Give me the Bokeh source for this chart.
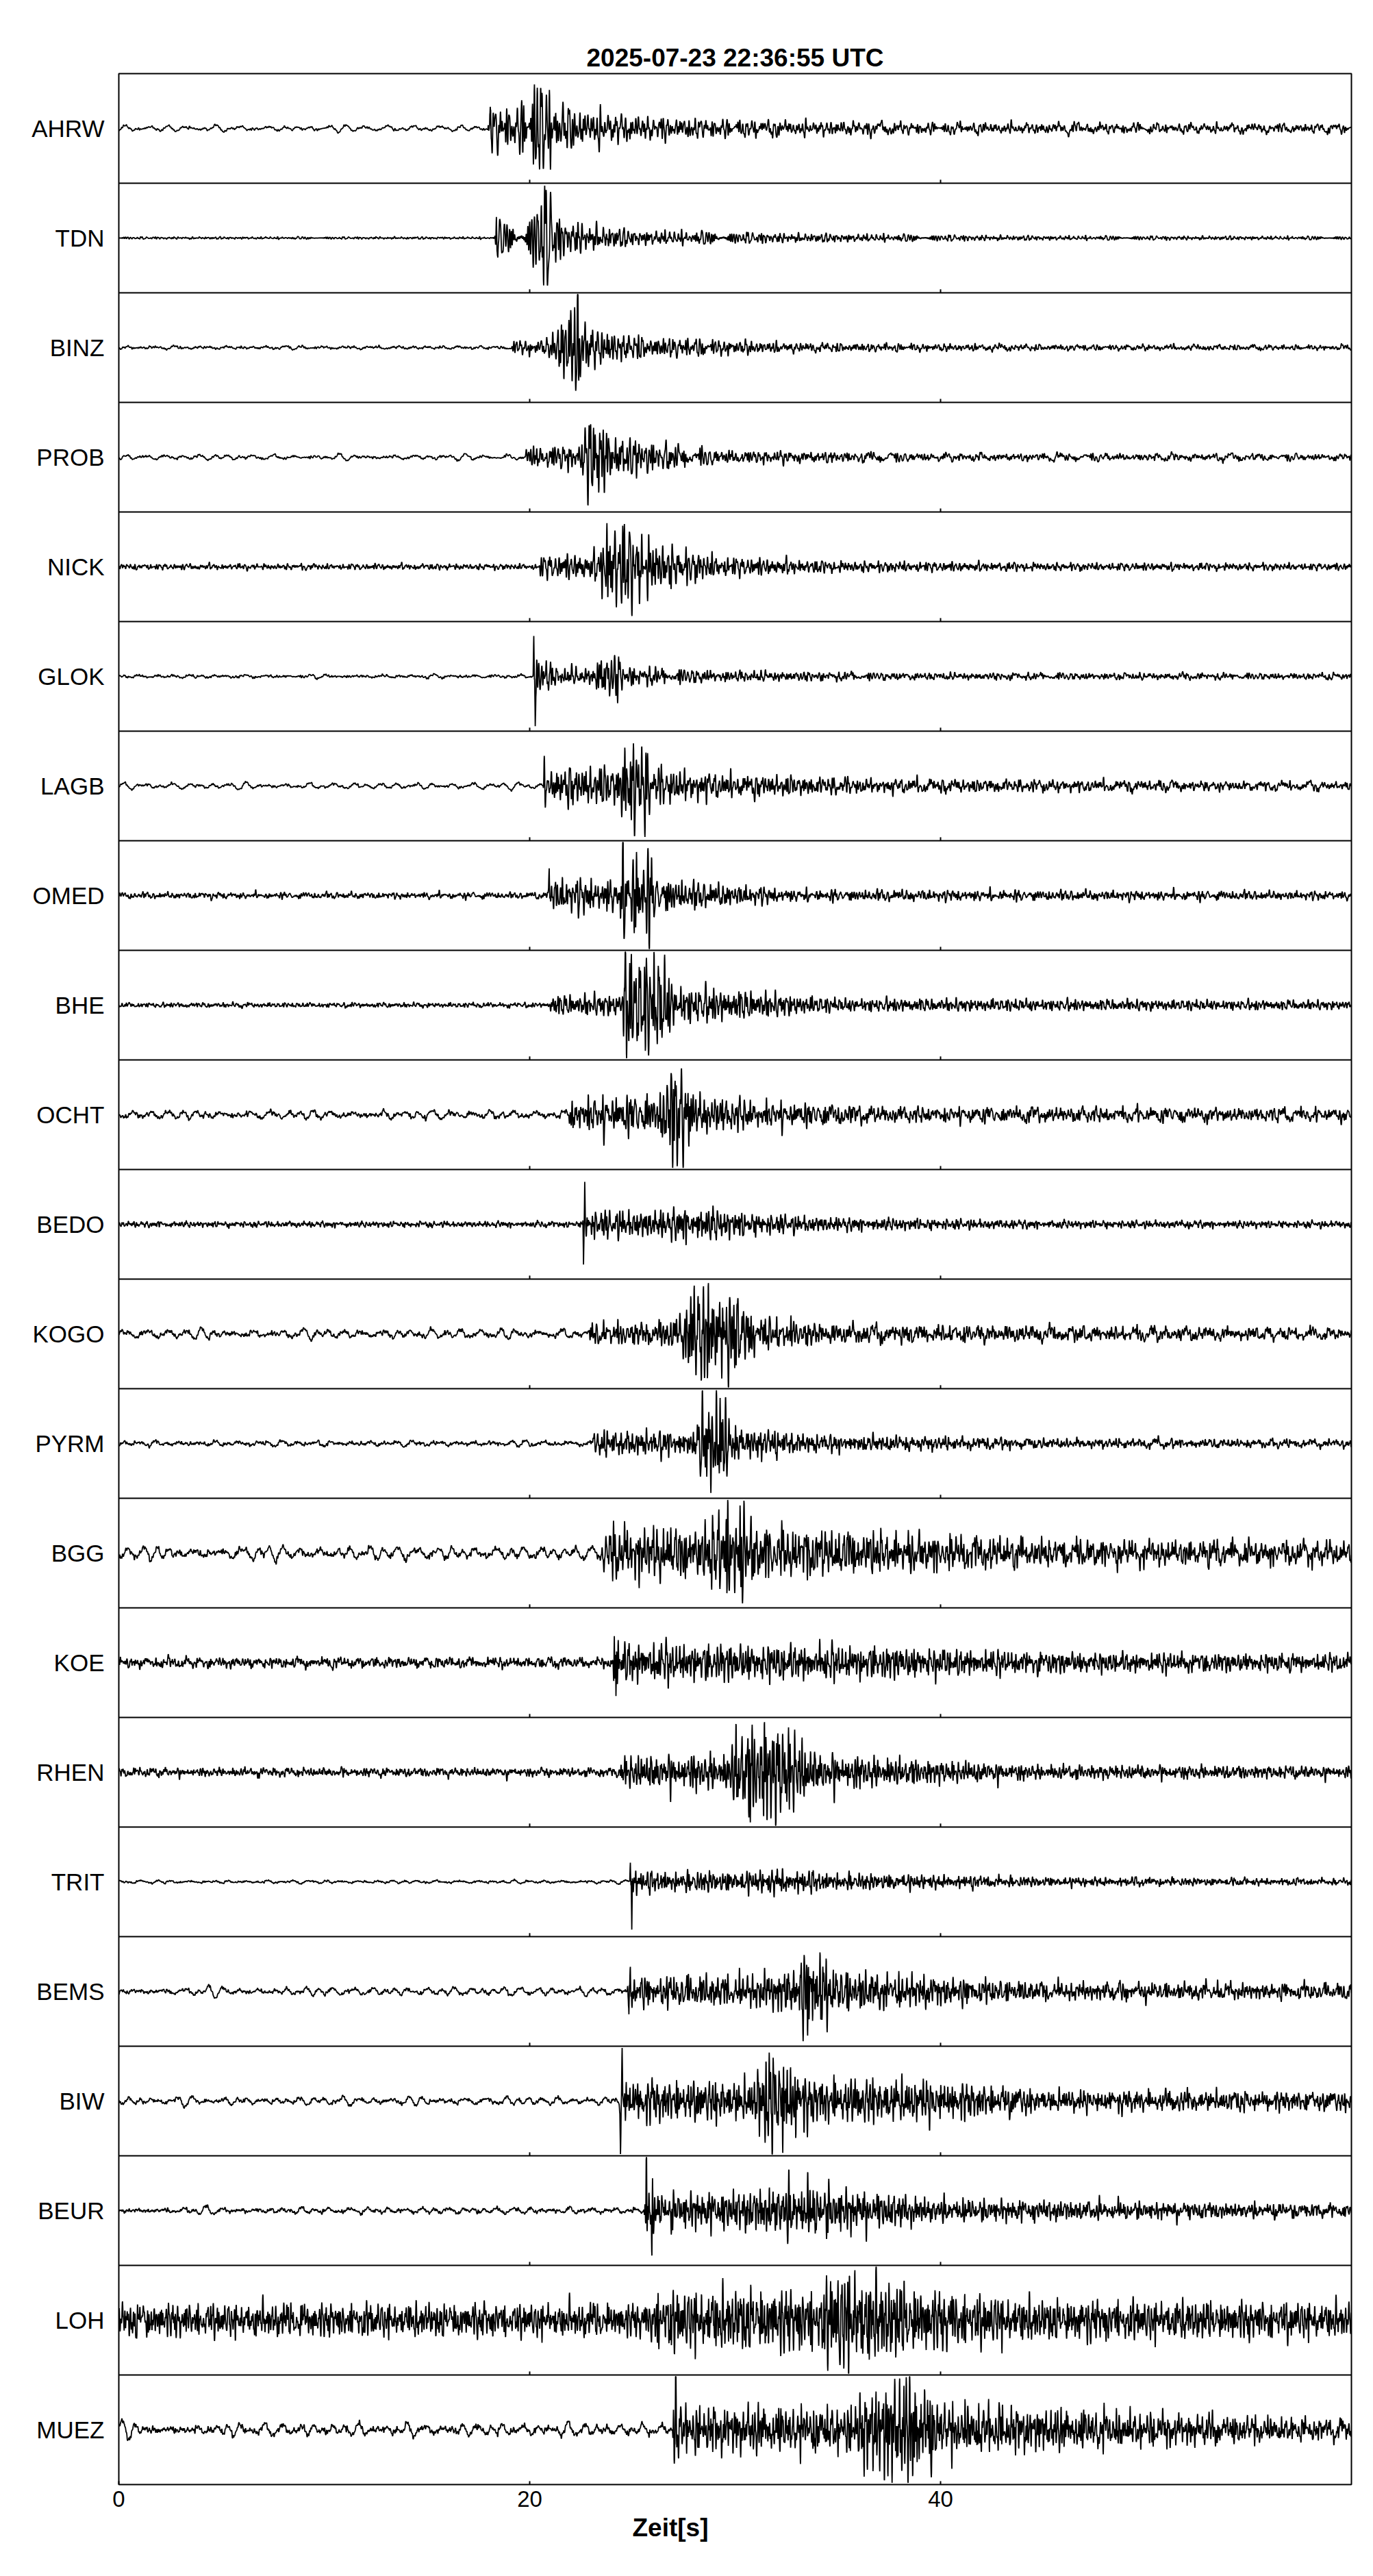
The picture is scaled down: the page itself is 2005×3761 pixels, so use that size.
import numpy as np
from bokeh.plotting import figure
from bokeh.models import Range1d, FixedTicker, Title
from bokeh.embed import file_html
from bokeh.resources import INLINE

# ---------------- data ----------------
STATIONS = ["AHRW", "TDN", "BINZ", "PROB", "NICK", "GLOK", "LAGB", "OMED",
            "BHE", "OCHT", "BEDO", "KOGO", "PYRM", "BGG", "KOE", "RHEN",
            "TRIT", "BEMS", "BIW", "BEUR", "LOH", "MUEZ"]
X_TICKS = [0, 20, 40]
TITLE = "2025-07-23  22:36:55 UTC"
X_LABEL = "Zeit[s]"
DURATION = 60.0       # seconds shown
SAMPLE_RATE = 100     # samples per second

# envelope of each trace (time [s], peak amplitude as fraction of half panel)
ENV_TIMES = [
    [0, 17.95, 18.0, 19.5, 19.9, 20.4, 21.0, 21.6, 23.5, 25.0, 30.0, 38, 49, 60],   # AHRW
    [0, 18.3, 18.35, 19.8, 20.2, 20.5, 21.0, 21.5, 23.0, 25.0, 33.5, 45, 60],       # TDN
    [0, 19.0, 19.1, 21.0, 21.5, 22.0, 22.6, 23.0, 25.5, 33, 45, 60],                # BINZ
    [0, 19.75, 19.8, 22.4, 22.8, 23.2, 23.5, 24.0, 25.5, 29, 40, 60],               # PROB
    [0, 20.45, 20.5, 23.4, 23.6, 24.2, 25.5, 27.0, 29.5, 35, 45, 60],               # NICK
    [0, 20.15, 20.2, 20.8, 21.4, 23.1, 23.3, 24.3, 24.6, 29, 38, 60],               # GLOK
    [0, 20.65, 20.7, 24.3, 24.6, 25.0, 25.6, 26.0, 29, 37, 60],                     # LAGB
    [0, 20.85, 20.9, 24.2, 24.6, 25.0, 25.8, 26.2, 27.8, 33, 60],                   # OMED
    [0, 20.95, 21.0, 24.5, 24.6, 25.5, 26.5, 27.1, 30.8, 35, 60],                   # BHE
    [0, 21.9, 21.95, 26.3, 26.6, 27.0, 27.6, 28.1, 30.8, 37, 60],                   # OCHT
    [0, 22.55, 22.6, 22.9, 26.5, 27.5, 28.5, 30.8, 35, 45, 60],                     # BEDO
    [0, 22.85, 22.9, 26.0, 27.4, 27.8, 28.6, 30.0, 31.2, 35, 60],                   # KOGO
    [0, 23.05, 23.1, 28.0, 28.4, 29.0, 29.5, 30.0, 34, 45, 60],                     # PYRM
    [0, 23.5, 23.55, 24.2, 28.7, 29.2, 30.0, 31.2, 37.2, 45, 60],                   # BGG
    [0, 24.05, 24.1, 24.6, 30, 37.2, 45, 60],                                       # KOE
    [0, 24.35, 24.4, 29.6, 30.1, 31.5, 32.5, 33.8, 37.2, 45, 60],                   # RHEN
    [0, 24.85, 24.9, 25.3, 30.8, 32, 35, 45, 60],                                   # TRIT
    [0, 24.75, 24.8, 25.2, 30.8, 32.9, 33.4, 34.0, 34.6, 37.2, 45, 60],             # BEMS
    [0, 24.35, 24.4, 24.8, 30.8, 31.3, 32.2, 33.6, 39.7, 45, 60],                   # BIW
    [0, 25.55, 25.6, 26.2, 30.8, 33.0, 36.1, 40, 49, 60],                           # BEUR
    [0, 25.85, 25.9, 34.0, 34.7, 35.6, 36.3, 39.7, 45, 60],                         # LOH
    [0, 26.95, 27.0, 27.5, 35.5, 36.0, 37.5, 39.0, 40.0, 49, 60],                   # MUEZ
]
ENV_AMPS = [
    [0.02, 0.02, 0.45, 0.35, 0.85, 0.95, 0.7, 0.4, 0.3, 0.22, 0.15, 0.1, 0.08, 0.07],
    [0.02, 0.02, 0.3, 0.22, 0.6, 0.92, 0.85, 0.35, 0.25, 0.14, 0.08, 0.04, 0.03],
    [0.02, 0.02, 0.12, 0.15, 0.6, 0.92, 0.85, 0.35, 0.2, 0.08, 0.05, 0.04],
    [0.02, 0.02, 0.2, 0.22, 0.6, 0.92, 0.8, 0.4, 0.3, 0.12, 0.06, 0.05],
    [0.05, 0.05, 0.2, 0.25, 0.9, 0.85, 0.6, 0.35, 0.18, 0.1, 0.07, 0.06],
    [0.02, 0.02, 0.4, 0.3, 0.15, 0.15, 0.4, 0.4, 0.18, 0.1, 0.06, 0.05],
    [0.02, 0.02, 0.35, 0.35, 0.8, 0.92, 0.75, 0.35, 0.22, 0.12, 0.06],
    [0.05, 0.05, 0.3, 0.3, 0.8, 0.92, 0.75, 0.35, 0.25, 0.1, 0.07],
    [0.04, 0.04, 0.18, 0.2, 0.9, 0.9, 0.85, 0.35, 0.25, 0.12, 0.08],
    [0.04, 0.04, 0.3, 0.35, 0.75, 0.92, 0.8, 0.35, 0.25, 0.13, 0.1],
    [0.05, 0.05, 0.3, 0.25, 0.25, 0.3, 0.3, 0.2, 0.12, 0.07, 0.06],
    [0.04, 0.04, 0.18, 0.2, 0.3, 0.85, 0.92, 0.7, 0.3, 0.15, 0.08],
    [0.03, 0.03, 0.22, 0.22, 0.7, 0.92, 0.8, 0.3, 0.15, 0.08, 0.06],
    [0.05, 0.05, 0.6, 0.45, 0.45, 0.85, 0.95, 0.45, 0.35, 0.22, 0.18],
    [0.08, 0.08, 0.5, 0.35, 0.32, 0.28, 0.18, 0.14],
    [0.07, 0.07, 0.28, 0.32, 0.75, 0.95, 0.85, 0.35, 0.25, 0.12, 0.1],
    [0.015, 0.015, 0.3, 0.18, 0.18, 0.22, 0.15, 0.08, 0.05],
    [0.03, 0.03, 0.35, 0.25, 0.28, 0.4, 0.7, 0.9, 0.4, 0.3, 0.15, 0.12],
    [0.03, 0.03, 0.45, 0.35, 0.35, 0.75, 0.92, 0.4, 0.35, 0.18, 0.15],
    [0.03, 0.03, 0.7, 0.3, 0.35, 0.5, 0.35, 0.2, 0.15, 0.1],
    [0.28, 0.28, 0.5, 0.55, 0.8, 0.94, 0.8, 0.5, 0.35, 0.3],
    [0.05, 0.05, 0.7, 0.4, 0.38, 0.6, 0.92, 0.9, 0.45, 0.3, 0.15],
]
# background (long-period) noise level of each station
NOISE_LF = [0.06, 0.005, 0.03, 0.05, 0.02, 0.03, 0.06, 0.03, 0.02, 0.08, 0.02,
            0.09, 0.05, 0.13, 0.06, 0.04, 0.03, 0.08, 0.08, 0.06, 0.1, 0.12]
# impulsive first motions (time [s], signed amplitude)
SPIKE_TIMES = [[18.05, 18.1], [18.38, 18.45], [], [], [], [20.2, 20.27], [], [20.95],
               [24.65, 24.72], [], [22.62, 22.68], [], [], [], [24.12, 24.2], [],
               [24.9, 24.97], [24.83, 24.9], [24.42, 24.5], [25.68, 25.95], [],
               [27.05, 27.1]]
SPIKE_AMPS = [[-0.4, 0.5], [0.33, -0.28], [], [], [], [0.48, -0.93], [], [0.5],
              [0.9, -0.85], [], [-0.92, 0.84], [], [], [], [0.66, -0.92], [],
              [0.43, -0.92], [-0.7, 0.46], [-0.8, 0.89], [0.9, -0.82], [],
              [-0.5, 0.9]]

HF_FREQS = [2.7, 3.1, 3.6, 3.9, 4.4, 4.9, 5.2, 5.9, 6.5, 7.3, 8.1, 8.8, 9.7,
            10.9, 12.1, 13.4]
LF_FREQS = [0.71, 0.83, 0.93, 1.04, 1.12, 1.27, 1.41, 1.58, 1.77]

# ---------------- trace synthesis from the read envelope ----------------
t = np.linspace(0.0, DURATION, int(DURATION * SAMPLE_RATE) + 1)


def carrier(freqs, shift, scale, norm):
    f = np.asarray(freqs) * scale
    k = np.arange(len(f)) + 1.0
    s1 = shift + 1.0
    ph = 2 * np.pi * np.mod(k * 0.6180339887 + s1 * k * k * 0.7548776662
                            + s1 * s1 * k * 0.5698402910, 1.0)
    s = np.sin(2 * np.pi * np.outer(t, f) + ph).sum(axis=1)
    return s / (norm * s.std())


n = len(STATIONS)
xs, ys = [], []
for i in range(n):
    env = np.interp(t, ENV_TIMES[i], ENV_AMPS[i])
    hf = carrier(HF_FREQS, i, 1.0 + 0.017 * i, 2.1)
    lf = carrier(LF_FREQS, i + 0.5, 1.0 + 0.011 * i, 2.3)
    sig = env * hf + NOISE_LF[i] * lf
    for ts, a in zip(SPIKE_TIMES[i], SPIKE_AMPS[i]):
        sig = sig + a * np.clip(1 - np.abs(t - ts) / 0.03, 0, None)
    sig = np.clip(sig, -0.97, 0.97)
    center = n - 1 - i
    xs.append(t.tolist())
    ys.append((center + 0.5 * sig).tolist())

# ---------------- figure ----------------
FONT = "Liberation Sans"
p = figure(frame_width=1800, frame_height=3520,
           x_range=Range1d(0, DURATION), y_range=Range1d(-0.5, n - 0.5),
           output_backend="svg", toolbar_location=None,
           min_border_left=173, min_border_top=107, min_border_right=20,
           min_border_bottom=110)
p.background_fill_color = "white"
p.border_fill_color = "white"
p.outline_line_color = "black"
p.outline_line_width = 2
p.xgrid.visible = False
p.ygrid.visible = False

p.multi_line(xs=xs, ys=ys, line_color="black", line_width=1.8)

# panel separators
sep_y = [k + 0.5 for k in range(n - 1)]
p.segment(x0=[0] * len(sep_y), x1=[DURATION] * len(sep_y), y0=sep_y, y1=sep_y,
          line_color="black", line_width=2)
# inner tick marks at the bottom of every panel
tx, ty = [], []
for yb in sep_y:
    for xv in X_TICKS[1:]:
        tx.append(xv)
        ty.append(yb)
p.segment(x0=tx, x1=tx, y0=ty, y1=[v + 0.032 for v in ty], line_color="black",
          line_width=2)

# x axis
p.xaxis.ticker = FixedTicker(ticks=X_TICKS)
p.xaxis.major_tick_in = 5
p.xaxis.major_tick_out = 0
p.xaxis.major_tick_line_width = 2
p.xaxis.minor_tick_line_color = None
p.xaxis.axis_line_color = None
p.xaxis.major_label_text_font = FONT
p.xaxis.major_label_text_font_size = "33px"
p.xaxis.major_label_text_color = "black"
p.xaxis.major_label_standoff = 9

# y axis: station names
centers = [n - 1 - i for i in range(n)]
p.yaxis.ticker = FixedTicker(ticks=centers)
p.yaxis.major_label_overrides = {c: s for c, s in zip(centers, STATIONS)}
p.yaxis.major_tick_line_color = None
p.yaxis.minor_tick_line_color = None
p.yaxis.axis_line_color = None
p.yaxis.major_tick_in = 0
p.yaxis.major_tick_out = 0
p.yaxis.major_label_standoff = 21
p.yaxis.major_label_text_font = FONT
p.yaxis.major_label_text_font_size = "35px"
p.yaxis.major_label_text_color = "black"

# title above and x label below
p.add_layout(Title(text=TITLE, align="left", offset=683, standoff=5,
                   text_font=FONT, text_font_size="37px", text_font_style="bold",
                   text_color="black"), "above")
p.add_layout(Title(text=X_LABEL, align="left", offset=750, standoff=10,
                   text_font=FONT, text_font_size="37px", text_font_style="bold",
                   text_color="black"), "below")

open("out.html", "w").write(file_html(p, INLINE))
